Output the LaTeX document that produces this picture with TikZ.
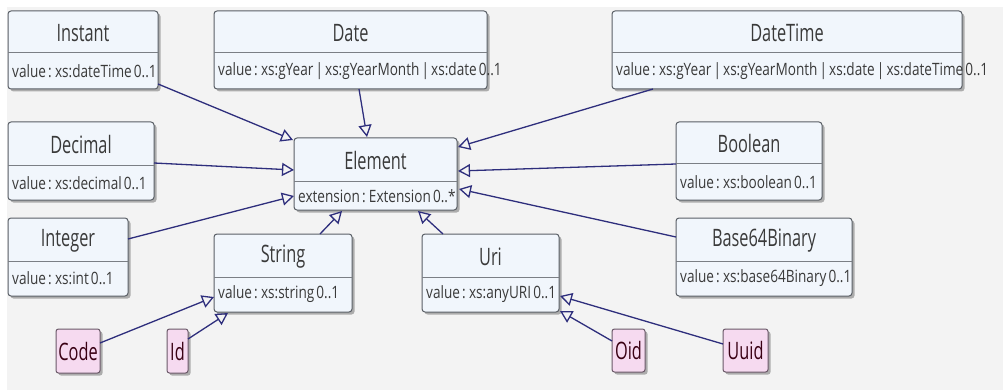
\documentclass[tikz,border=0pt]{standalone}
\usepackage{fontspec}
\setmainfont{Open Sans}[FakeStretch=0.78]
\newfontfamily\titlefont{Open Sans}[FakeStretch=0.68]
\newfontfamily\attrfont{Open Sans}[FakeStretch=0.8, WordSpace=0.6]
\usetikzlibrary{arrows.meta,shadows,calc}
\definecolor{bgc}{HTML}{F3F3F3}
\definecolor{boxfill}{HTML}{F1F6FC}
\definecolor{boxdraw}{HTML}{5A5F66}
\definecolor{pinkfill}{HTML}{F6DAF0}
\definecolor{pinkdraw}{HTML}{6A5868}
\definecolor{linec}{HTML}{2E2E7C}
\definecolor{txt}{HTML}{3A3A3A}
\tikzset{
  clsbox/.style={draw=boxdraw, line width=1pt, fill=boxfill, rounded corners=3pt,
    anchor=north west, inner sep=0pt, outer sep=0pt,
    drop shadow={shadow xshift=2.5pt, shadow yshift=-2.5pt, fill=black!55, opacity=0.55}},
  pinkbox/.style={draw=pinkdraw, line width=1pt, fill=pinkfill, rounded corners=2.5pt,
    anchor=north west, inner sep=0pt, outer sep=0pt,
    drop shadow={shadow xshift=2.5pt, shadow yshift=-2.5pt, fill=black!55, opacity=0.55}},
  sepline/.style={draw=boxdraw!80, line width=1pt},
  titletext/.style={font=\titlefont\fontsize{24}{24}\selectfont, text=txt, inner sep=0pt},
  attrtext/.style={font=\attrfont\fontsize{17}{17}\selectfont, text=txt, inner sep=0pt, anchor=west},
  gen/.style={draw=linec, line width=1.3pt,
    -{Triangle[open, length=12pt, width=13pt, line width=1.3pt]}},
}
\newcommand\umlcls[8]{%
  \node[clsbox, minimum width=#4pt, minimum height=#5pt] (#1) at (#2,#3) {};
  \draw[sepline] ($(#1.north west)+(0,#6)$) -- ($(#1.north east)+(0,#6)$);
  \node[titletext] (#1-t) at ($(#1.north)+(0,#6/2+1)$) {#7};
  \node[attrtext] (#1-a) at ($(#1.north west)+(4,#6/2+#5/2)$) {#8};
}
\newcommand\pinkcls[6]{%
  \node[pinkbox, minimum width=#4pt, minimum height=#5pt] (#1) at (#2,#3) {};
  \node[titletext, text=black!70!purple] (#1-t) at (#1.center) {#6};
}
\begin{document}
\begin{tikzpicture}[x=1pt,y=-1pt]
  \useasboundingbox (0,0) rectangle (1003,390);
  \fill[bgc] (0,0) rectangle (1003,390);
  \fill[white] (0,0) rectangle (1003,7);
  \fill[white] (0,0) rectangle (7,390);

  \umlcls{inst}{8}{11}{150}{78}{42}{Instant}{value : xs:dateTime 0..1}
  \umlcls{date}{214}{11}{273}{78}{42}{Date}{value : xs:gYear | xs:gYearMonth | xs:date 0..1}
  \umlcls{dt}{612}{11}{350}{78}{42}{DateTime}{value : xs:gYear | xs:gYearMonth | xs:date | xs:dateTime 0..1}
  \umlcls{dec}{8}{122}{146}{78}{44}{Decimal}{value : xs:decimal 0..1}
  \umlcls{el}{294}{138}{163}{72}{44}{Element}{extension : Extension 0..*}
  \umlcls{bool}{676}{122}{146}{78}{42}{Boolean}{value : xs:boolean 0..1}
  \umlcls{int}{8}{218}{120}{78}{43}{Integer}{value : xs:int 0..1}
  \umlcls{str}{214}{234}{138}{78}{43}{String}{value : xs:string 0..1}
  \umlcls{uri}{422}{234}{137}{78}{43}{Uri}{value : xs:anyURI 0..1}
  \umlcls{b64}{676}{218}{176}{78}{43}{Base64Binary}{value : xs:base64Binary 0..1}

  \pinkcls{code}{56}{329}{44}{44}{Code}
  \pinkcls{id}{167}{329}{21}{44}{Id}
  \pinkcls{oid}{612}{329}{33}{43}{Oid}
  \pinkcls{uuid}{723}{329}{45}{43}{Uuid}

  \draw[gen] ($(inst.south east)+(0,-5)$) -- ($(el.north west)+(-1,2)$);
  \draw[gen] ($(date.south)+(8.5,0)$) -- ($(el.north)+(-8.5,-1)$);
  \draw[gen] ($(dt.south west)+(41,0)$) -- ($(el.north east)+(1,9)$);
  \draw[gen] ($(dec.north east)+(0,41)$) -- ($(el.north west)+(0,32)$);
  \draw[gen] ($(int.north east)+(0,21)$) -- ($(el.north west)+(0,58)$);
  \draw[gen] ($(bool.north west)+(0,42)$) -- ($(el.north east)+(1,33)$);
  \draw[gen] ($(b64.north west)+(0,19)$) -- ($(el.north east)+(2,51)$);
  \draw[gen] ($(str.north west)+(106,0)$) -- ($(el.south west)+(48,1)$);
  \draw[gen] ($(uri.north west)+(21,0)$) -- ($(el.south west)+(124,1)$);
  \draw[gen] ($(code.north east)+(0,14)$) -- ($(str.north west)+(0,63)$);
  \draw[gen] ($(id.north east)+(0,10)$) -- ($(str.south west)+(14,1)$);
  \draw[gen] ($(oid.north west)+(0,12)$) -- ($(uri.south east)+(1,-1)$);
  \draw[gen] ($(uuid.north west)+(0,15)$) -- ($(uri.north east)+(1,62)$);
\end{tikzpicture}
\end{document}
